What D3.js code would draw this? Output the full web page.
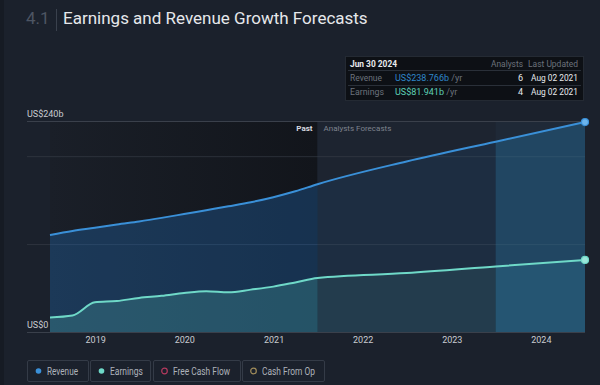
<!DOCTYPE html>
<html>
<head>
<meta charset="utf-8">
<script src="https://cdn.jsdelivr.net/npm/d3@7"></script>
<style>
  html, body { margin: 0; padding: 0; background: #1b212c; }
  svg { display: block; font-family: Roboto, "Open Sans", sans-serif; }
</style>
</head>
<body>
<div id="chart"></div>
<script>
// past values are trailing twelve months, forecasts are yearly (US$ billions)
const pastDates = ["2018-06-30", "2018-09-30", "2018-12-31", "2019-03-31", "2019-06-30", "2019-09-30",
                   "2019-12-31", "2020-03-31", "2020-06-30", "2020-09-30", "2020-12-31", "2021-03-31", "2021-06-30"];
const pastRevenue = [110.4, 115.0, 118.6, 122.4, 125.8, 129.8, 134.2, 138.6, 143.0, 147.6, 153.3, 160.0, 168.1];
const pastEarnings = [16.6, 18.8, 33.8, 35.2, 38.8, 41.1, 44.3, 46.4, 45.2, 48.2, 51.6, 56.4, 61.5];

const forecastDates = ["2021-06-30", "2022-06-30", "2023-06-30", "2024-06-30"];
const forecastRevenue = [168.1, 194.0, 216.5, 238.766];
const forecastEarnings = [61.5, 67.0, 74.5, 81.941];

const yearTicks = ["2019", "2020", "2021", "2022", "2023", "2024"];
const legendItems = ["Revenue", "Earnings", "Free Cash Flow", "Cash From Op"];

const width = 600, height = 385;
const margin = {top: 121, right: 15, bottom: 53, left: 50};
const parse = d3.timeParse("%Y-%m-%d");

const revenue = pastDates.map((d, i) => ({date: parse(d), value: pastRevenue[i]}))
    .concat(forecastDates.slice(1).map((d, i) => ({date: parse(d), value: forecastRevenue[i + 1]})));
const earnings = pastDates.map((d, i) => ({date: parse(d), value: pastEarnings[i]}))
    .concat(forecastDates.slice(1).map((d, i) => ({date: parse(d), value: forecastEarnings[i + 1]})));

const x = d3.scaleTime()
    .domain([parse(pastDates[0]), parse(forecastDates[forecastDates.length - 1])])
    .range([margin.left, width - margin.right]);
const y = d3.scaleLinear()
    .domain([0, 240])
    .range([height - margin.bottom, margin.top]);

const xSplit = x(parse(forecastDates[0]));
const xHighlight = x(parse(forecastDates[2]));
const x0 = x.range()[0], x1 = x.range()[1];
const yTop = y(240), yBottom = y(0);

const svg = d3.select("#chart").append("svg")
    .attr("width", width)
    .attr("height", height);

const defs = svg.append("defs");
const pastGrad = defs.append("linearGradient").attr("id", "pastBg");
pastGrad.append("stop").attr("offset", "0%").attr("stop-color", "#1a1f28");
pastGrad.append("stop").attr("offset", "100%").attr("stop-color", "#12151b");

const clips = [["clipPast", x0, xSplit], ["clipFuture", xSplit, xHighlight], ["clipHigh", xHighlight, x1]];
clips.forEach(([id, a, b]) => {
    defs.append("clipPath").attr("id", id)
        .append("rect").attr("x", a).attr("y", 0).attr("width", b - a).attr("height", height);
});

// left edge strip
svg.append("rect").attr("x", 0).attr("y", 0).attr("width", 4).attr("height", height).attr("fill", "#161b24");

// title
svg.append("text").attr("x", 26).attr("y", 24).attr("font-size", 17).attr("fill", "#4d5563").text("4.1");
svg.append("line").attr("x1", 56.5).attr("x2", 56.5).attr("y1", 9).attr("y2", 31).attr("stroke", "#3a414d");
svg.append("text").attr("x", 63).attr("y", 24).attr("font-size", 17).attr("fill", "#e6e8eb")
    .text("Earnings and Revenue Growth Forecasts");

// backgrounds
svg.append("rect").attr("x", x0).attr("y", yTop).attr("width", xSplit - x0).attr("height", yBottom - yTop)
    .attr("fill", "url(#pastBg)");
svg.append("rect").attr("x", xSplit).attr("y", yTop).attr("width", x1 - xSplit).attr("height", yBottom - yTop)
    .attr("fill", "#1d2430");
svg.append("rect").attr("x", xHighlight).attr("y", yTop).attr("width", x1 - xHighlight).attr("height", yBottom - yTop)
    .attr("fill", "#1f2937");

// y grid + labels
const yAxis = d3.axisRight(y)
    .tickValues([0, 100, 200, 240])
    .tickSize(x1 - 27)
    .tickFormat(d => d === 0 ? "US$0" : d === 240 ? "US$240b" : "");
svg.append("g")
    .attr("transform", "translate(27,0)")
    .call(yAxis)
    .call(g => g.select(".domain").remove())
    .call(g => g.selectAll(".tick line").attr("stroke", "#3a404b").attr("stroke-opacity", d => d === 0 || d === 240 ? 1 : 0.6))
    .call(g => g.selectAll(".tick text").attr("x", 0).attr("dy", -5).attr("text-anchor", "start")
        .attr("fill", "#c9ccd1").attr("font-size", 9).attr("font-family", "Roboto"));

const area = d3.area().curve(d3.curveMonotoneX).x(d => x(d.date)).y0(yBottom).y1(d => y(d.value));
const line = d3.line().curve(d3.curveMonotoneX).x(d => x(d.date)).y(d => y(d.value));

const fills = {
    clipPast: {rev: "rgba(34,112,190,0.32)", earn: "rgba(90,200,185,0.22)"},
    clipFuture: {rev: "rgba(34,112,190,0.12)", earn: "rgba(90,200,185,0.10)"},
    clipHigh: {rev: "rgba(40,140,200,0.30)", earn: "rgba(60,170,200,0.16)"}
};
Object.entries(fills).forEach(([id, f]) => {
    const g = svg.append("g").attr("clip-path", `url(#${id})`);
    g.append("path").attr("d", area(revenue)).attr("fill", f.rev);
    g.append("path").attr("d", area(earnings)).attr("fill", f.earn);
});

svg.append("path").attr("d", line(revenue)).attr("fill", "none")
    .attr("stroke", "#3a90d8").attr("stroke-width", 2);
svg.append("path").attr("d", line(earnings)).attr("fill", "none")
    .attr("stroke", "#6fd9c8").attr("stroke-width", 2);

// end dots
const lastRev = revenue[revenue.length - 1], lastEarn = earnings[earnings.length - 1];
svg.append("circle").attr("cx", x(lastRev.date)).attr("cy", y(lastRev.value)).attr("r", 3.5)
    .attr("fill", "#6cb4ec").attr("stroke", "#3a90d8").attr("stroke-width", 1.2);
svg.append("circle").attr("cx", x(lastEarn.date)).attr("cy", y(lastEarn.value)).attr("r", 3.5)
    .attr("fill", "#9be6da").attr("stroke", "#6fd9c8").attr("stroke-width", 1.2);

// past / forecast labels
svg.append("text").attr("x", xSplit - 5).attr("y", yTop + 10).attr("text-anchor", "end")
    .attr("font-size", 8).attr("font-weight", "bold").attr("fill", "#d8dbe0").text("Past");
svg.append("text").attr("x", xSplit + 6).attr("y", yTop + 10)
    .attr("font-size", 8).attr("fill", "#7d838e").text("Analysts Forecasts");

// x axis
const xAxis = d3.axisBottom(x)
    .tickValues(yearTicks.map(d => d3.timeParse("%Y")(d)))
    .tickFormat(d3.timeFormat("%Y"))
    .tickSize(0)
    .tickPadding(5);
svg.append("g")
    .attr("transform", `translate(0,${yBottom})`)
    .call(xAxis)
    .call(g => g.select(".domain").remove())
    .call(g => g.selectAll(".tick text").attr("fill", "#c9ccd1").attr("font-size", 9).attr("font-family", "Roboto"));

// tooltip box
const tip = svg.append("g");
tip.append("rect").attr("x", 345.5).attr("y", 56.5).attr("width", 238).attr("height", 44)
    .attr("fill", "#0d1015").attr("stroke", "#242a33");
tip.append("line").attr("x1", 348).attr("x2", 581).attr("y1", 70.5).attr("y2", 70.5).attr("stroke", "#2a3039");
tip.append("line").attr("x1", 348).attr("x2", 581).attr("y1", 85.5).attr("y2", 85.5).attr("stroke", "#2a3039");
const t = (xx, yy, txt, fill, anchor, weight, len) => {
    const el = tip.append("text").attr("x", xx).attr("y", yy)
        .attr("font-size", 9).attr("fill", fill).attr("text-anchor", anchor || "start")
        .attr("font-weight", weight || "normal").text(txt);
    if (len) el.attr("textLength", len).attr("lengthAdjust", "spacingAndGlyphs");
    return el;
};
t(350, 67, "Jun 30 2024", "#e8eaed", "start", "bold", 47);
t(523, 67, "Analysts", "#6c727c", "end", null, 32);
t(578, 67, "Last Updated", "#6c727c", "end", null, 50);
t(350, 81, "Revenue", "#6c727c", "start", null, 32);
const rv = t(395, 81, `US$${forecastRevenue[3].toFixed(3)}b`, "#2f86c8");
rv.append("tspan").attr("fill", "#6c727c").text(" /yr");
t(523, 81, "6", "#e8eaed", "end");
t(578, 81, "Aug 02 2021", "#e8eaed", "end", null, 47);
t(350, 95, "Earnings", "#6c727c", "start", null, 34);
const ev = t(395, 95, `US$${forecastEarnings[3].toFixed(3)}b`, "#5ed1b5");
ev.append("tspan").attr("fill", "#6c727c").text(" /yr");
t(523, 95, "4", "#e8eaed", "end");
t(578, 95, "Aug 02 2021", "#e8eaed", "end", null, 47);

// legend
const legendX = [27.5, 90.5, 153.5, 242.5];
const legendW = [61, 60, 87, 82];
const legendTextW = [31, 33, 57, 53];
const dotStyle = [
    {fill: "#3a90d8", stroke: "none"},
    {fill: "#6fd9c8", stroke: "none"},
    {fill: "none", stroke: "#b33a5e"},
    {fill: "none", stroke: "#a08c5a"}
];
legendItems.forEach((name, i) => {
    const g = svg.append("g").attr("transform", `translate(${legendX[i]},360.5)`);
    g.append("rect").attr("width", legendW[i]).attr("height", 21).attr("rx", 1.5)
        .attr("fill", "none").attr("stroke", "#343b47");
    g.append("circle").attr("cx", 11).attr("cy", 10.5).attr("r", 2.8)
        .attr("fill", dotStyle[i].fill).attr("stroke", dotStyle[i].stroke).attr("stroke-width", 1.2);
    g.append("text").attr("x", 19.5).attr("y", 14).attr("font-size", 10).attr("fill", "#aeb3bb")
        .attr("textLength", legendTextW[i]).attr("lengthAdjust", "spacingAndGlyphs").text(name);
});
</script>
</body>
</html>
